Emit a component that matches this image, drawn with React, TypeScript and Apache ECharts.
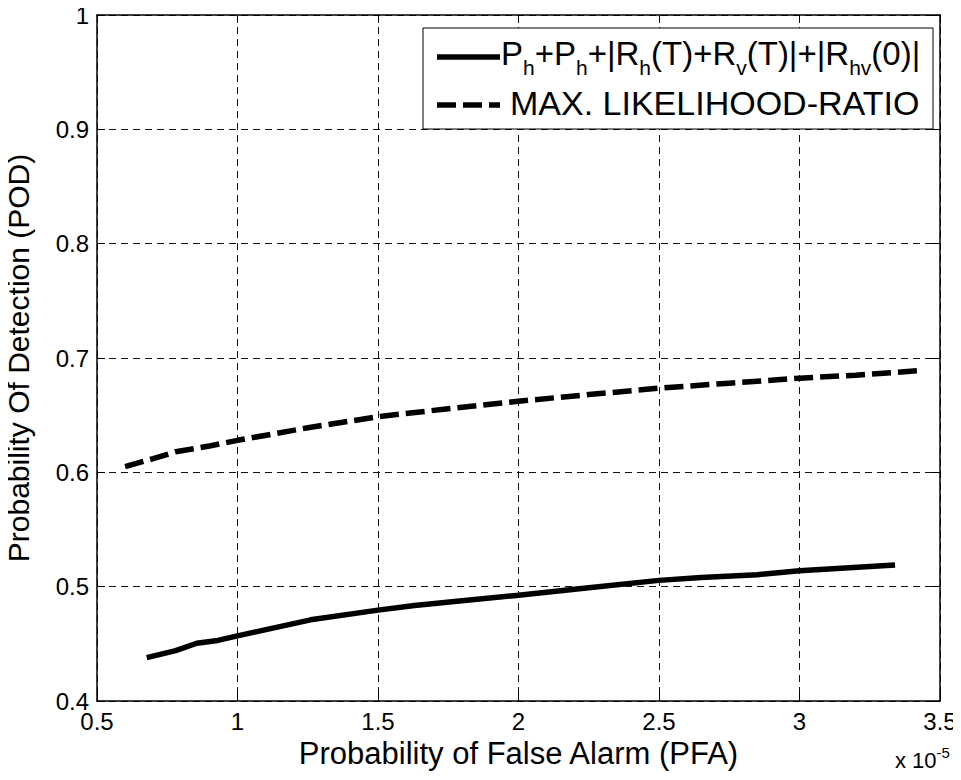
import React, { useEffect, useRef } from "react";
import * as echarts from "echarts";

// x values in units of 1e-5 (axis shows 0.5 ... 3.5, "x 10^-5")
const pfaSolid = [0.677, 0.78, 0.855, 0.93, 1.0, 1.13, 1.26, 1.5, 1.63, 1.79, 2.0, 2.25, 2.5, 2.65, 2.85, 3.0, 3.34];
const podSolid = [0.438, 0.444, 0.4505, 0.453, 0.457, 0.464, 0.471, 0.4795, 0.4835, 0.4875, 0.4925, 0.499, 0.5055, 0.508, 0.5105, 0.514, 0.519];

const pfaMl = [0.6, 0.7, 0.78, 0.9, 1.0, 1.25, 1.5, 1.75, 2.0, 2.25, 2.5, 2.75, 3.0, 3.2, 3.43];
const podMl = [0.605, 0.612, 0.618, 0.623, 0.628, 0.639, 0.6487, 0.6556, 0.6622, 0.668, 0.6736, 0.678, 0.6823, 0.685, 0.689];

const seriesNames = ["Ph+Ph+|Rh(T)+Rv(T)|+|Rhv(0)|", "MAX. LIKELIHOOD-RATIO"];
const legendRich = [
  "{n|P}{s|h}{n|+P}{s|h}{n|+|R}{s|h}{n|(T)+R}{s|v}{n|(T)|+|R}{s|hv}{n|(0)|}",
  "{m|MAX. LIKELIHOOD-RATIO}",
];

const xTitle = "Probability of False Alarm (PFA)";
const yTitle = "Probability Of Detection (POD)";
const xMin = 0.5, xMax = 3.5, xStep = 0.5;
const yMin = 0.4, yMax = 1, yStep = 0.1;

const FONT = "'Liberation Sans', Arial, Helvetica, sans-serif";

export default function App() {
  const ref = useRef<HTMLDivElement>(null);
  useEffect(() => {
    if (!ref.current) return;
    const chart = echarts.init(ref.current, null, { renderer: "svg" });
    const fmt = (v: number) => String(+Number(v).toFixed(2));
    const gridLine = { show: true, lineStyle: { color: "#111", width: 1, type: [7, 5] as any } };
    const axisLine = { show: true, onZero: false, lineStyle: { color: "#000", width: 1.5 } };
    const tick = { show: true, inside: true, length: 8, lineStyle: { color: "#000", width: 1 } };
    const lineWidth = 5.5;
    const mlDash = [19, 7];
    const richStyles = {
      n: { fontSize: 33, lineHeight: 33, verticalAlign: "top", fontFamily: FONT, fill: "#000" },
      s: { fontSize: 21, lineHeight: 21, verticalAlign: "top", padding: [20, 0, 0, 0], fontFamily: FONT, fill: "#000" },
      m: { fontSize: 34, lineHeight: 34, verticalAlign: "top", fontFamily: FONT, fill: "#000" },
    };
    const Z = 100;
    chart.setOption({
      animation: false,
      backgroundColor: "#fff",
      textStyle: { fontFamily: FONT },
      grid: { left: 97, right: 21, top: 15, bottom: 79, containLabel: false, outerBoundsMode: "none" },
      xAxis: [
        {
          type: "value", position: "bottom", min: xMin, max: xMax, interval: xStep,
          axisLine, axisTick: tick, splitLine: gridLine,
          axisLabel: { formatter: fmt, color: "#000", fontSize: 24, fontFamily: FONT, margin: 8 },
          name: xTitle, nameLocation: "middle", nameGap: 36,
          nameTextStyle: { color: "#000", fontSize: 31, fontFamily: FONT },
        },
        {
          type: "value", position: "top", min: xMin, max: xMax, interval: xStep,
          axisLine, axisTick: tick, splitLine: { show: false }, axisLabel: { show: false },
        },
      ],
      yAxis: [
        {
          type: "value", position: "left", min: yMin, max: yMax, interval: yStep,
          axisLine, axisTick: tick, splitLine: gridLine,
          axisLabel: { formatter: fmt, color: "#000", fontSize: 24, fontFamily: FONT, margin: 8 },
          name: yTitle, nameLocation: "middle", nameGap: 64, nameRotate: 90,
          nameTextStyle: { color: "#000", fontSize: 30, fontFamily: FONT },
        },
        {
          type: "value", position: "right", min: yMin, max: yMax, interval: yStep,
          axisLine, axisTick: tick, splitLine: { show: false }, axisLabel: { show: false },
        },
      ],
      series: [
        {
          name: seriesNames[0], type: "line", symbol: "none",
          data: pfaSolid.map((x, i) => [x, podSolid[i]]),
          lineStyle: { color: "#000", width: lineWidth, type: "solid" },
          itemStyle: { color: "#000" },
        },
        {
          name: seriesNames[1], type: "line", symbol: "none",
          data: pfaMl.map((x, i) => [x, podMl[i]]),
          lineStyle: { color: "#000", width: lineWidth, type: mlDash },
          itemStyle: { color: "#000" },
        },
      ],
      graphic: [
        // legend box
        { type: "rect", z: Z, shape: { x: 423, y: 28, width: 510, height: 101 }, style: { fill: "#fff", stroke: "#000", lineWidth: 1 } },
        { type: "line", z: Z + 1, shape: { x1: 437, y1: 57, x2: 500, y2: 57 }, style: { stroke: "#000", lineWidth } },
        { type: "line", z: Z + 1, shape: { x1: 437, y1: 105, x2: 500, y2: 105 }, style: { stroke: "#000", lineWidth, lineDash: mlDash } },
        { type: "text", z: Z + 1, x: 501, y: 37, style: { text: legendRich[0], rich: richStyles, verticalAlign: "top", fill: "#000" } },
        { type: "text", z: Z + 1, x: 510, y: 86, style: { text: legendRich[1], rich: richStyles, verticalAlign: "top", fill: "#000" } },
        {
          type: "text", left: 895, top: 745,
          style: {
            text: "{a|x 10}{b|-5}",
            rich: {
              a: { fontSize: 22, lineHeight: 26, verticalAlign: "bottom", fontFamily: FONT, fill: "#000" },
              b: { fontSize: 15, lineHeight: 15, verticalAlign: "top", fontFamily: FONT, fill: "#000" },
            },
          },
        },
        { type: "text", left: 497, top: 771, style: { text: "(a)", fontSize: 30, fontFamily: FONT, fill: "#000" } },
      ],
    });
    return () => chart.dispose();
  }, []);
  return <div ref={ref} style={{ width: 961, height: 780, margin: -8 }} />;
}
